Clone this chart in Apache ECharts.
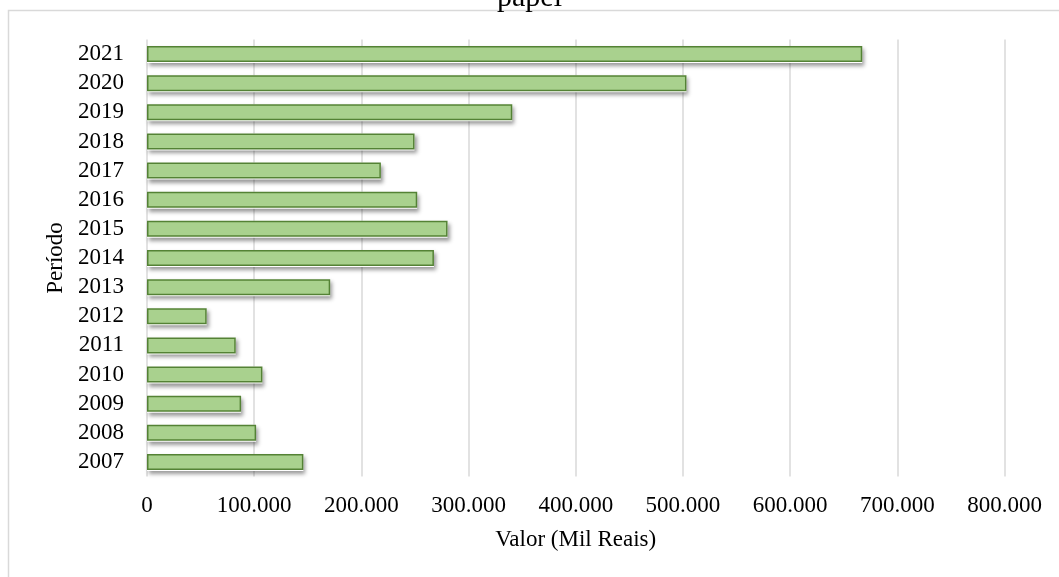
<!DOCTYPE html>
<html>
<head>
<meta charset="utf-8">
<script src="https://cdn.jsdelivr.net/npm/echarts@6/dist/echarts.min.js"></script>
<style>
  html, body { margin: 0; padding: 0; background: #ffffff; }
  #chart { width: 1059px; height: 577px; }
</style>
</head>
<body>
<div id="chart"></div>
<script>
// Annual values, in thousands of reais
const years = ['2007', '2008', '2009', '2010', '2011', '2012', '2013', '2014',
               '2015', '2016', '2017', '2018', '2019', '2020', '2021'];
const values = [145900, 101800, 87800, 107700, 82800, 55700, 170900, 267700,
                280400, 252100, 218200, 249600, 340800, 503300, 667300];
const xTicks = [0, 100000, 200000, 300000, 400000, 500000, 600000, 700000, 800000];

const serif = '"Liberation Serif", "Times New Roman", "DejaVu Serif", serif';

// thousands separator as a dot, e.g. 100.000
function fmt(v) {
  return String(v).replace(/\B(?=(\d{3})+(?!\d))/g, '.');
}

const chart = echarts.init(document.getElementById('chart'), null, { renderer: 'canvas' });

chart.setOption({
  backgroundColor: '#ffffff',
  animation: false,
  title: {
    text: 'papel',
    left: 'center',
    top: -22,
    textStyle: { fontFamily: serif, fontSize: 30, fontWeight: 'normal', color: '#000' }
  },
  graphic: [{
    type: 'rect',
    z: -1,
    silent: true,
    shape: { x: 8.5, y: 10.5, width: 1200, height: 700 },
    style: { fill: 'none', stroke: '#d9d9d9', lineWidth: 1.5 }
  }],
  grid: { left: 147, right: 54.5, top: 39.5, bottom: 100.5, containLabel: false },
  xAxis: {
    type: 'value',
    min: xTicks[0],
    max: xTicks[xTicks.length - 1],
    interval: xTicks[1] - xTicks[0],
    name: 'Valor (Mil Reais)',
    nameLocation: 'middle',
    nameGap: 52,
    nameTextStyle: { fontFamily: serif, fontSize: 23, color: '#000' },
    axisLine: { show: false },
    axisTick: { show: false },
    axisLabel: {
      fontFamily: serif, fontSize: 23, color: '#000', margin: 18,
      formatter: fmt
    },
    splitLine: { show: true, lineStyle: { color: '#d9d9d9', width: 1.5 } }
  },
  yAxis: {
    type: 'category',
    data: years,
    name: 'Período',
    nameLocation: 'middle',
    nameGap: 79,
    nameTextStyle: { fontFamily: serif, fontSize: 23, color: '#000' },
    axisLine: { show: false },
    axisTick: { show: false },
    axisLabel: { interval: 0, fontFamily: serif, fontSize: 23, color: '#000', margin: 23 },
    splitLine: { show: false }
  },
  series: [
    {
      // soft drop shadow beneath each bar
      type: 'bar',
      data: values,
      barWidth: 17,
      barGap: '-100%',
      silent: true,
      z: 1,
      itemStyle: {
        color: '#ffffff',
        shadowColor: 'rgba(0,0,0,0.4)',
        shadowBlur: 4,
        shadowOffsetX: 2,
        shadowOffsetY: 3
      }
    },
    {
      type: 'bar',
      data: values,
      barWidth: 16,
      barGap: '-100%',
      z: 2,
      itemStyle: {
        color: '#a9d18e',
        borderColor: '#548235',
        borderWidth: 1.5
      }
    }
  ]
});
</script>
</body>
</html>
